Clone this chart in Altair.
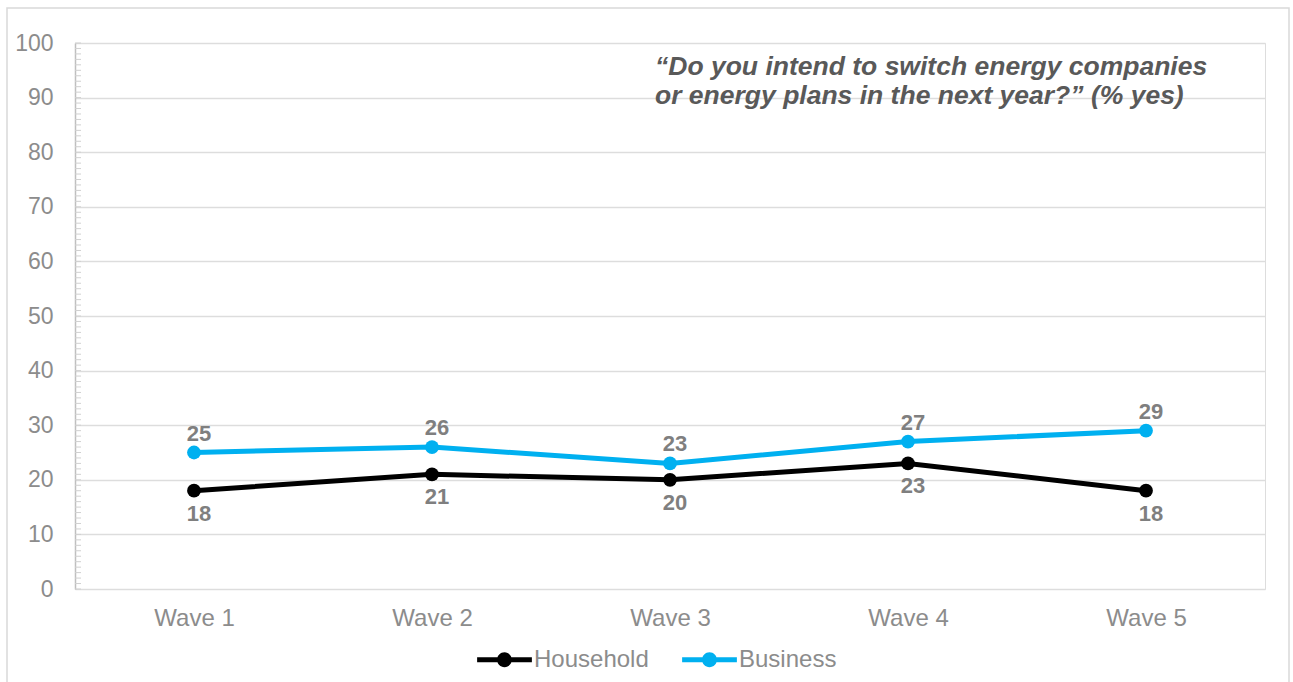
import altair as alt
import pandas as pd

waves = ["Wave 1", "Wave 2", "Wave 3", "Wave 4", "Wave 5"]
household = [18, 21, 20, 23, 18]
business = [25, 26, 23, 27, 29]
series_names = ["Household", "Business"]
series_colors = ["#000000", "#00B0F0"]
minor_ticks = list(range(0, 101))
title_lines = ["\u201cDo you intend to switch energy companies",
               "or energy plans in the next year?\u201d (% yes)"]

rows = []
for w, h, b in zip(waves, household, business):
    rows.append({"wave": w, "series": "Household", "value": h})
    rows.append({"wave": w, "series": "Business", "value": b})
df = pd.DataFrame(rows)

FONT = "Liberation Sans"
GREY = "#8C8C8C"

# legend symbol: a horizontal bar with a dot in the middle
LEG_SYMBOL = ("M-1,-0.09H1V0.09H-1Z "
              "M0.27,0A0.27,0.27 0 1,1 -0.27,0A0.27,0.27 0 1,1 0.27,0Z")

x_enc = alt.X("wave:N", sort=waves, title=None,
              scale=alt.Scale(type="point", padding=0.5),
              axis=alt.Axis(labelAngle=0, labelFontSize=24, labelColor=GREY,
                            labelFont=FONT, ticks=False, domain=False,
                            labelPadding=17, grid=False))
y_enc = alt.Y("value:Q", title=None,
              scale=alt.Scale(domain=[0, 100], nice=False),
              axis=alt.Axis(values=list(range(0, 101, 10)), labelFontSize=23,
                            labelColor=GREY, labelFont=FONT, ticks=False,
                            domain=True, domainColor="#BFBFBF", domainWidth=1.5,
                            labelPadding=22, grid=True, gridColor="#DDDDDD",
                            gridWidth=1.5))
color_scale = alt.Scale(domain=series_names, range=series_colors)
color_legend = alt.Color("series:N", sort=series_names, scale=color_scale,
                         legend=alt.Legend(orient="none", legendX=402, legendY=589,
                                           direction="horizontal", title=None,
                                           labelFontSize=24, labelColor=GREY,
                                           labelFont=FONT, symbolType=LEG_SYMBOL,
                                           symbolSize=3000, symbolStrokeWidth=0,
                                           columnPadding=33, labelOffset=2))

border = alt.Chart(pd.DataFrame({"a": [0]})).mark_rect(
    fill=None, stroke="#D9D9D9", strokeWidth=1.5
).encode(x=alt.value(-68), x2=alt.value(1214), y=alt.value(-35), y2=alt.value(700))

minor = alt.Chart(pd.DataFrame({"v": minor_ticks})).mark_rule(
    color="#D0D0D0", strokeWidth=1
).encode(y=alt.Y("v:Q", scale=alt.Scale(domain=[0, 100], nice=False)),
         x=alt.value(0), x2=alt.value(6))

base = alt.Chart(df)
lines = base.mark_line(strokeWidth=5).encode(x=x_enc, y=y_enc, color=color_legend)
points = base.mark_circle(size=190, opacity=1).encode(
    x=x_enc, y=y_enc, color=color_legend)

lab_b = base.transform_filter(alt.datum.series == "Business").mark_text(
    fontSize=22, fontWeight="bold", color="#7F7F7F", font=FONT, dy=-19, dx=5
).encode(x=x_enc, y=y_enc, text="value:Q")
lab_h = base.transform_filter(alt.datum.series == "Household").mark_text(
    fontSize=22, fontWeight="bold", color="#7F7F7F", font=FONT, dy=23, dx=5
).encode(x=x_enc, y=y_enc, text="value:Q")

title = alt.Chart(pd.DataFrame({"t": [title_lines]})).mark_text(
    fontSize=26.5, fontWeight="bold", fontStyle="italic", color="#595959",
    font=FONT, align="left", baseline="middle", lineHeight=29
).encode(x=alt.value(580), y=alt.value(24), text="t")

chart = alt.layer(border, minor, lines, points, lab_b, lab_h, title).properties(
    width=1190, height=546,
    autosize=alt.AutoSizeParams(type="none"),
    padding={"left": 75, "top": 43, "right": 28, "bottom": 93},
).configure_view(stroke=None).configure(background="white")

chart.save("out.html", embed_options={"renderer": "svg", "actions": False})
